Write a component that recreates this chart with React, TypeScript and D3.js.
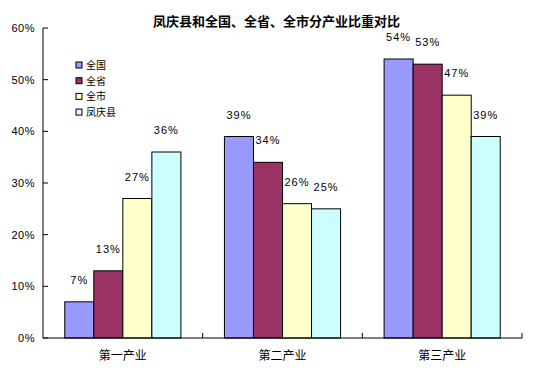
import * as d3 from 'd3';

const categories = ['第一产业', '第二产业', '第三产业'];
const seriesNames = ['全国', '全省', '全市', '凤庆县'];
const seriesColors = ['#9999FF', '#993366', '#FFFFCC', '#CCFFFF'];
// values in percent, rows follow seriesNames
const values = [
  [7, 39, 54],
  [13, 34, 53],
  [27, 26, 47],
  [36, 25, 39],
];
const yTicks = [0, 10, 20, 30, 40, 50, 60];

const W = 553;
const H = 374;
const left = 43;
const right = 522;
const top = 28;
const bottom = 338;

const numFont = '"Liberation Sans", Arial, sans-serif';
const cjkFont = '"Noto Sans CJK SC", sans-serif';

export default function App() {
  const x = d3.scaleBand().domain(categories).range([left, right]);
  // gap width 150% => 4 bars + 1.5 bar widths per category
  const barW = x.bandwidth() / 5.5;
  const y = d3.scaleLinear().domain([0, 60]).range([bottom, top]);

  return (
    <svg width={W} height={H} style={{ position: 'absolute', left: 0, top: 0, background: '#fff' }}>
      <text x={W / 2} y={26} textAnchor="middle" fontFamily={cjkFont} fontWeight="bold" fontSize={13}>
        凤庆县和全国、全省、全市分产业比重对比
      </text>

      {categories.map((c, ci) =>
        seriesNames.map((s, si) => {
          const v = values[si][ci];
          const bx = (x(c) as number) + barW * 0.75 + si * barW;
          return (
            <g key={c + s}>
              <rect x={bx} y={y(v)} width={barW} height={bottom - y(v)}
                fill={seriesColors[si]} stroke="#000" strokeWidth={1} />
              <text x={bx + barW / 2} y={y(v) - 18} textAnchor="middle"
                fontFamily={numFont} fontSize={11} letterSpacing={1}>
                {v}%
              </text>
            </g>
          );
        })
      )}

      {/* axes */}
      <line x1={left} x2={left} y1={top} y2={bottom} stroke="#000" />
      <line x1={left} x2={right} y1={bottom} y2={bottom} stroke="#000" />
      {yTicks.map(t => (
        <g key={t}>
          <line x1={left} x2={left + 5} y1={y(t)} y2={y(t)} stroke="#000" />
          <text x={35} y={y(t) + 4} textAnchor="end" fontFamily={numFont} fontSize={11} letterSpacing={0.5}>
            {t}%
          </text>
        </g>
      ))}
      {[...categories.map(c => x(c) as number), right].slice(1).map(tx => (
        <line key={tx} x1={tx} x2={tx} y1={bottom} y2={bottom - 5} stroke="#000" />
      ))}
      {categories.map(c => (
        <text key={c} x={(x(c) as number) + x.bandwidth() / 2} y={360} textAnchor="middle"
          fontFamily={cjkFont} fontSize={12}>
          {c}
        </text>
      ))}

      {/* legend */}
      {seriesNames.map((s, i) => (
        <g key={s} transform={`translate(76, ${65 + i * 15.7})`}>
          <rect x={0} y={-3} width={6} height={6} fill={seriesColors[i]} stroke="#000" />
          <text x={10} y={4} fontFamily={cjkFont} fontSize={10}>{s}</text>
        </g>
      ))}
    </svg>
  );
}
